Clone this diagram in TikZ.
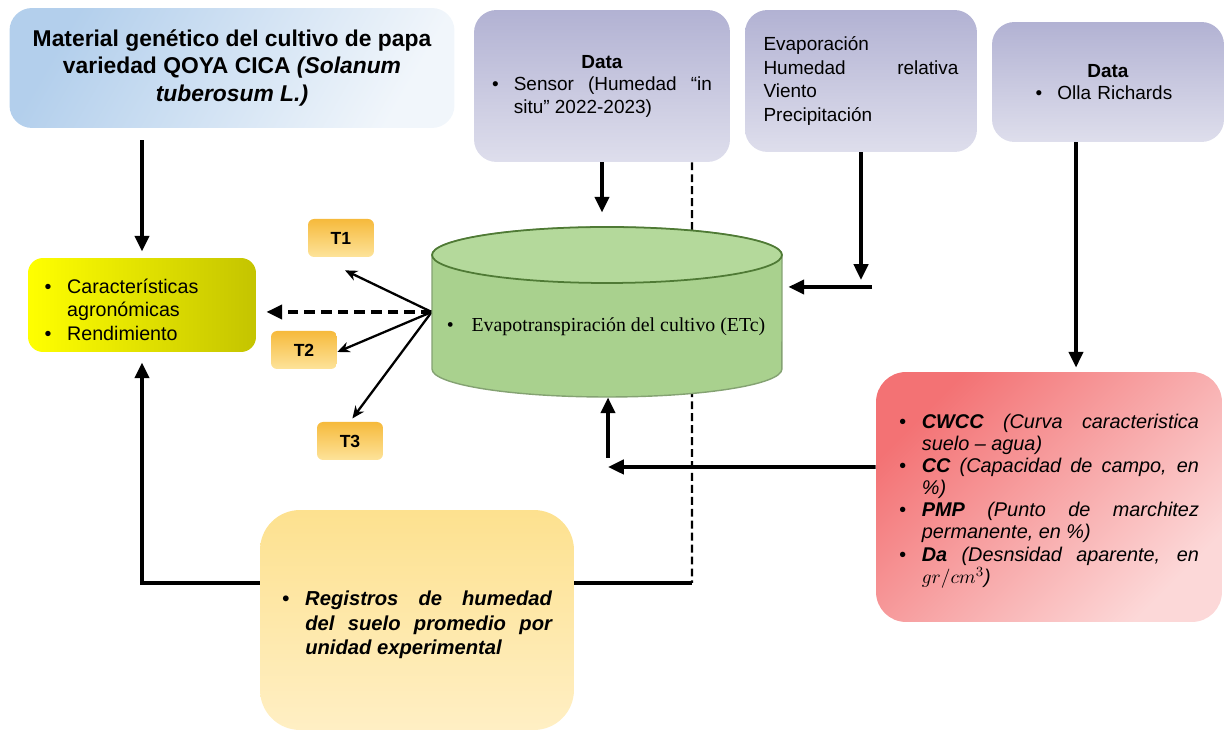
\documentclass[tikz,border=0pt]{standalone}
\usepackage{fontspec}
\setmainfont{Liberation Sans}
\newfontfamily\timesfont{Liberation Serif}
\usepackage{xcolor}
\usepackage{tikz}
\usetikzlibrary{shapes, arrows.meta, positioning}
\usetikzlibrary{calc}
\definecolor{matL}{HTML}{B3CFEC}
\definecolor{matR}{HTML}{F1F6FB}
\definecolor{lavA}{HTML}{B2B2D3}
\definecolor{lavB}{HTML}{DEDEEC}
\definecolor{yelA}{HTML}{FFFF00}
\definecolor{yelB}{HTML}{C4C400}
\definecolor{tA}{HTML}{F6BA3C}
\definecolor{tB}{HTML}{FDE39A}
\definecolor{cylG}{HTML}{A9D18E}
\definecolor{cylT}{HTML}{B4D99B}
\definecolor{cylD}{HTML}{4F7A35}
\definecolor{redA}{HTML}{F37274}
\definecolor{redB}{HTML}{FCD8D8}
\definecolor{regA}{HTML}{FDE18F}
\definecolor{regB}{HTML}{FFEFC4}
\newcommand{\bitem}[1]{\par\noindent\hangindent=1.15em\hangafter=1\makebox[1.15em][l]{\textbullet}#1\par}
\newcommand{\nohyph}{\hyphenpenalty=10000\exhyphenpenalty=10000\tolerance=9999}

\begin{document}
\begin{tikzpicture}
  [
    x=0.02cm, y=-0.02cm,
    Mat/.style={rounded corners=0.45cm, left color=matL, right color=matR, shading angle=60,
      minimum width=8.9cm, minimum height=2.4cm, align=center,
      font=\bfseries\fontsize{13}{15.4}\selectfont},
    Lav/.style={rounded corners=0.45cm, top color=lavA, bottom color=lavB,
      font=\fontsize{10.8}{12.8}\selectfont\nohyph},
    Yel/.style={rounded corners=0.3cm, left color=yelA, middle color=yelA!85!yelB, right color=yelB,
      minimum width=4.56cm, minimum height=1.88cm, text width=3.9cm, align=left,
      font=\fontsize{11.2}{13.4}\selectfont},
    Tbox/.style={rounded corners=0.12cm, top color=tA, bottom color=tB,
      minimum width=1.32cm, minimum height=0.76cm, font=\bfseries\fontsize{10}{12}\selectfont},
    Red/.style={rounded corners=0.6cm, left color=redA, right color=redB, shading angle=45,
      minimum width=6.92cm, minimum height=5cm, text width=6.0cm, align=justify,
      font=\itshape\fontsize{11.3}{12.6}\selectfont\nohyph},
    Reg/.style={rounded corners=0.8cm, top color=regA, bottom color=regB,
      minimum width=6.28cm, minimum height=4.4cm, text width=5.4cm, align=justify,
      font=\bfseries\itshape\fontsize{11.5}{14}\selectfont\nohyph},
    arr/.style={-{Triangle[length=9pt,width=8pt]}, line width=2.2pt},
    thinarr/.style={-{Stealth[length=7pt,width=6pt]}, line width=1.3pt},
    dasharr/.style={-{Triangle[length=9pt,width=8pt]}, line width=2.2pt, dash pattern=on 6pt off 3.5pt},
    dline/.style={line width=1.4pt, dash pattern=on 4.5pt off 2.3pt},
    line/.style={line width=2.2pt}
  ]
  \useasboundingbox (0,0) rectangle (1225,732);
  % Nodes
  \node[Mat] (matbox) at (232,68)
    {Material genético del cultivo de papa\\variedad QOYA CICA \textit{(Solanum}\\\textit{tuberosum L.)}};
  \node[Lav, minimum width=5.12cm, minimum height=3.04cm, text width=4.4cm, align=justify] (sensorbox) at (602,86)
    {\makebox[\linewidth]{\textbf{Data}}\par
     \bitem{Sensor (Humedad “in situ" 2022-2023)}};
  \node[Lav, minimum width=4.64cm, minimum height=2.84cm, text width=3.9cm, align=left,
    font=\fontsize{10.8}{13.6}\selectfont] (climabox) at (861,81)
    {Evaporación\\Humedad\hfill relativa\\Viento\\Precipitación};
  \node[Lav, minimum width=4.64cm, minimum height=2.4cm, text width=2.9cm, align=left] (ollabox) at (1108,82)
    {\makebox[\linewidth]{\textbf{Data}}\par
     \bitem{Olla Richards}};
  \node[Yel] (agrobox) at (142,305)
    {\bitem{Características agronómicas}\bitem{Rendimiento}};
  \node[Tbox] (t1) at (341,238) {T1};
  \node[Tbox] (t2) at (304,350) {T2};
  \node[Tbox] (t3) at (350,441) {T3};
  \node[Red] (redbox) at (1049,497)
    {\bitem{\textbf{CWCC} (Curva caracteristica suelo – agua)}
     \bitem{\textbf{CC} (Capacidad de campo, en \%)}
     \bitem{\textbf{PMP} (Punto de marchitez permanente, en \%)}
     \bitem{\textbf{Da} (Desnsidad aparente, en $gr/cm^3$)}};
  \node[Reg] (regbox) at (417,620)
    {\bitem{Registros de humedad del suelo promedio por unidad experimental}};
  \node[minimum width=7cm, minimum height=3.4cm, inner sep=0pt] (cyl) at (607,312) {};
  \coordinate (bend) at (692,583);
  \coordinate (climabend) at (861,287);
  \coordinate (redbend) at (608,467);
  % Lines
  \draw[arr, shorten <=0.24cm, shorten >=0.12cm] (matbox.south -| agrobox.north) -- (agrobox.north);
  \draw[arr, shorten >=0.28cm] (sensorbox.south) -- (sensorbox.south |- cyl.north);
  \draw[dline] ([xshift=1.8cm]sensorbox.south) -- (bend);
  \draw[line] (bend) -- (bend -| regbox.east);
  \draw[arr, shorten >=0.2cm] (regbox.west |- bend) -| (agrobox.south);
  \draw[arr, shorten >=0.14cm] (climabox.south) -- (climabend);
  \draw[arr, shorten >=0.12cm] ([xshift=0.22cm]climabend) -- (climabend -| cyl.east);
  \draw[arr, shorten >=0.08cm] ([xshift=-0.64cm]ollabox.south) -- ([xshift=-0.64cm]ollabox.south |- redbox.north);
  \draw[arr] ([yshift=0.6cm]redbox.west) -- (redbend);
  \draw[arr] ([yshift=0.18cm]redbend) -- (redbend |- cyl.south);
  \draw[dasharr, shorten >=0.2cm] (cyl.west) -- (cyl.west -| agrobox.east);
  \draw[thinarr] (cyl.west) -- ([xshift=0.08cm, yshift=-0.26cm]t1.south);
  \draw[thinarr] (cyl.west) -- ([yshift=-0.04cm]t2.east);
  \draw[thinarr, shorten >=0.08cm] (cyl.west) -- (t3.north);
  % Cylinder
  \draw[fill=cylG, draw=cylD!70, line width=0.8pt]
    (432,255) -- (432,369) arc[start angle=180, end angle=360, x radius=3.5cm, y radius=0.56cm]
    -- (782,255) arc[start angle=0, end angle=180, x radius=3.5cm, y radius=0.56cm] -- cycle;
  \draw[fill=cylT, draw=cylD, line width=1pt] (607,255) ellipse [x radius=3.5cm, y radius=0.56cm];
  \node[font=\timesfont\fontsize{11.3}{13}\selectfont] (cyltext) at (606,327)
    {\textbullet\hspace{0.9em}Evapotranspiración del cultivo (ETc)};
\end{tikzpicture}
\end{document}
